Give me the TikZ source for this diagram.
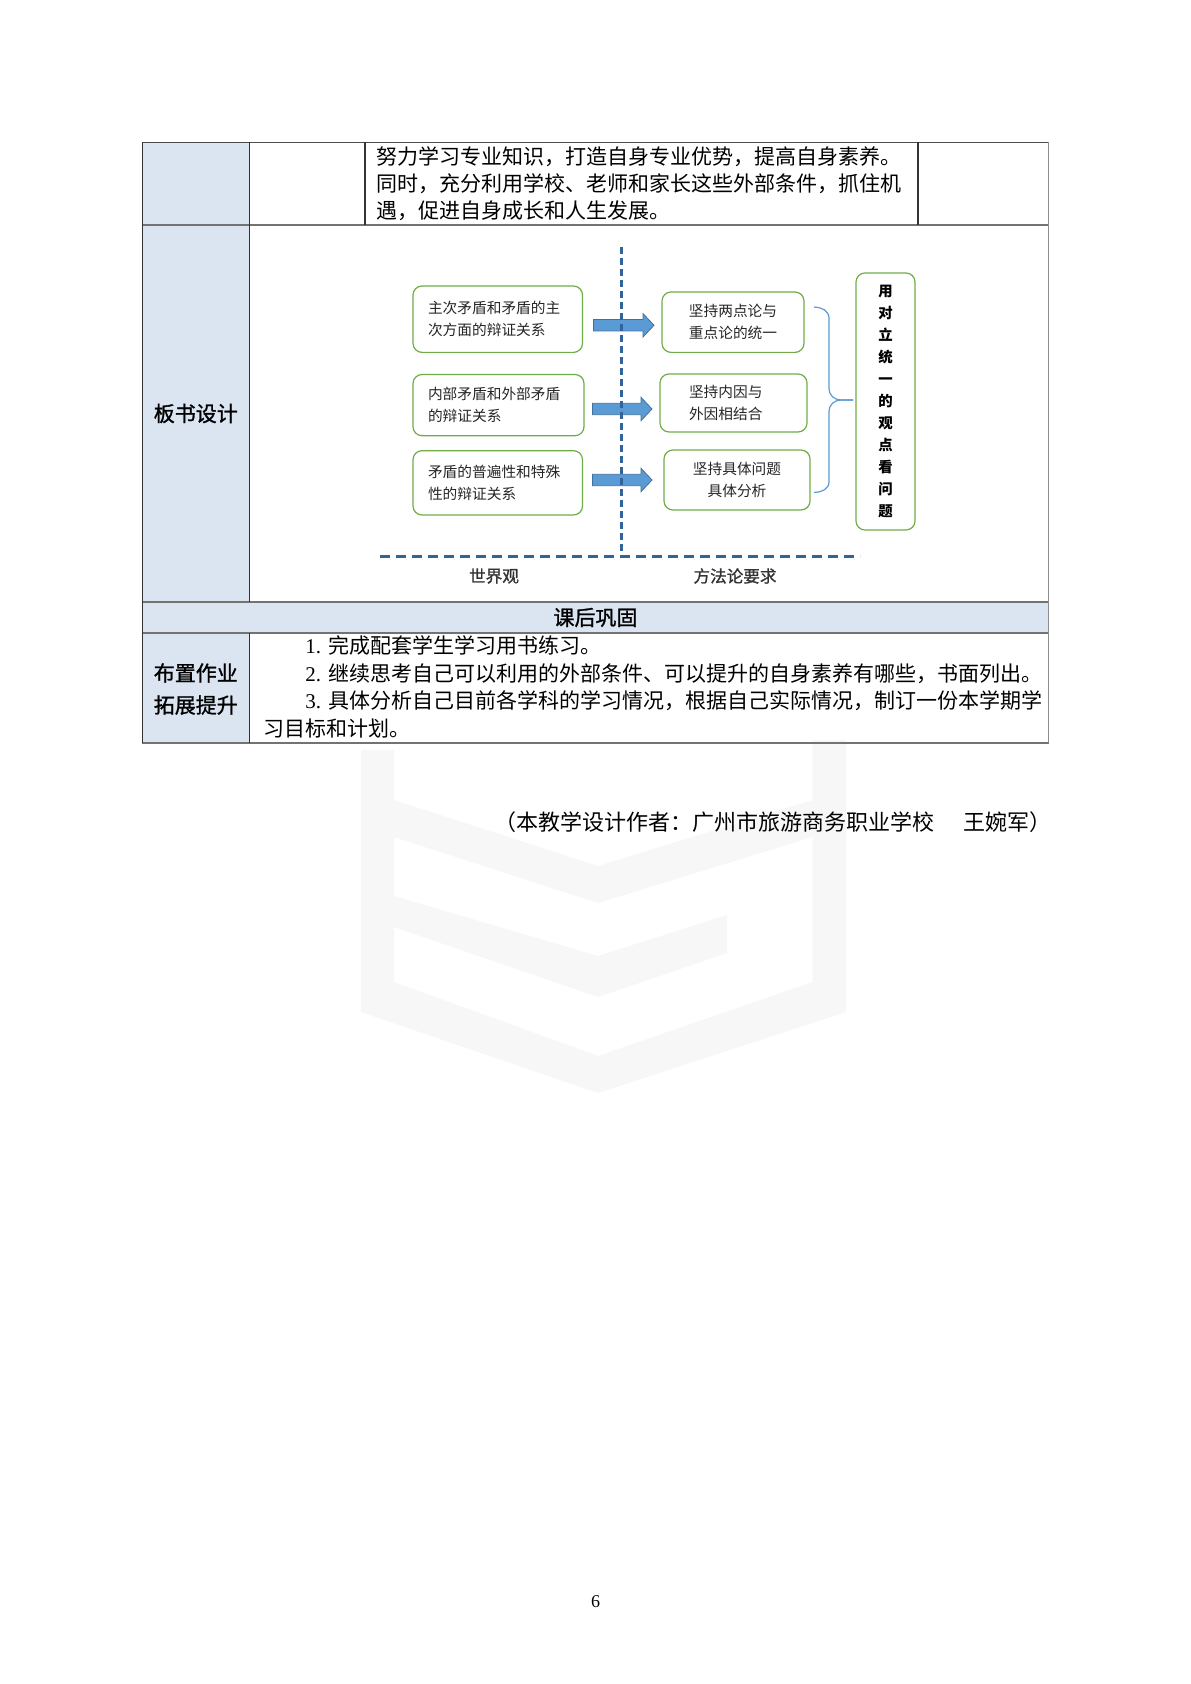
\documentclass[tikz,border=0pt]{standalone}
\usepackage{fontspec}
\setmainfont{Noto Sans CJK SC}
\newfontfamily\tnr{Liberation Serif}
\newfontfamily\hei[FakeBold=1.2]{Noto Sans CJK SC}
\usetikzlibrary{calc}
\definecolor{hdrblue}{HTML}{DBE5F1}
\definecolor{boxgreen}{HTML}{70AD47}
\definecolor{arrfill}{HTML}{5B9BD5}
\definecolor{arrline}{HTML}{41719C}
\definecolor{dashblue}{HTML}{31649B}
\definecolor{wmark}{gray}{0.97}
\begin{document}
\begin{tikzpicture}[x=0.5pt,y=-0.5pt,
  every node/.style={inner sep=0pt},
  bodytext/.style={font=\fontsize{10.5}{13.5}\selectfont},
  hdr/.style={font=\hei\fontsize{10.5}{13.5}\selectfont},
  gbox/.style={draw=boxgreen, line width=0.6pt, rounded corners=4.5pt, fill=white,
               font=\fontsize{7.35}{10.85}\selectfont, text=black!85},
  vline/.style={line width=0.6pt, draw=black!80},
  hline/.style={line width=1pt, draw=black!55},
  dline/.style={draw=dashblue, line width=1.5pt, dash pattern=on 5pt off 3pt},
  barr/.style={fill=arrfill, draw=arrline, line width=0.4pt},
  brace/.style={draw=arrfill, line width=0.6pt},
  wm/.style={fill=wmark, draw=none},
  lbl/.style={font=\hei\fontsize{8.3}{10}\selectfont, text=black!80}
]
\useasboundingbox (0,0) rectangle (1190,1684);
\fill[white] (0,0) rectangle (1190,1684);

% faint watermark
\fill[wm] (361,750) -- (361,1012) -- (598,1093) -- (846,1012) -- (846,740) -- (812.6,740)
  -- (812.6,982) -- (598,1056) -- (394,982) -- (394,750) -- cycle;
\fill[wm] (394,896) -- (598,956) -- (727,915) -- (727,953) -- (598,997) -- (394,927) -- cycle;
\fill[wm] (394,800) -- (598,866) -- (812.6,800) -- (812.6,837) -- (598,903) -- (394,837) -- cycle;

% table fills
\fill[hdrblue] (142.3,142.3) rectangle (249.3,602);
\fill[hdrblue] (142.3,602) rectangle (1048.7,633);
\fill[hdrblue] (142.3,633) rectangle (249.3,743);

% table lines
\draw[line width=0.7pt, draw=black!70] (142.3,142.3) -- (1048.7,142.3);
\draw[hline] (142.3,225) -- (1048.7,225);
\draw[hline] (142.3,602) -- (1048.7,602);
\draw[hline] (142.3,633) -- (1048.7,633);
\draw[hline] (142.3,743) -- (1048.7,743);
\draw[vline] (142.3,142.3) -- (142.3,743);
\draw[vline] (249.3,142.3) -- (249.3,602);
\draw[vline] (249.3,633) -- (249.3,743);
\draw[vline] (365,142.3) -- (365,225);
\draw[vline] (918,142.3) -- (918,225);
\draw[line width=0.7pt, draw=black!45] (1048.7,142.3) -- (1048.7,743);

% table texts
\node[bodytext, anchor=west, align=left] (plan) at (376,184)
  {努力学习专业知识，打造自身专业优势，提高自身素养。\\
   同时，充分利用学校、老师和家长这些外部条件，抓住机\\
   遇，促进自身成长和人生发展。};
\node[hdr] (bsj) at (195.8,413.5) {板书设计};
\node[hdr] (khgg) at (595.5,617.5) {课后巩固};
\node[hdr, align=center, font=\hei\fontsize{10.5}{16}\selectfont] (bzzy) at (195.8,689) {布置作业\\拓展提升};
\node[font=\fontsize{10.5}{13.75}\selectfont, anchor=west, align=left] (hw) at (263,686.7)
  {\hspace*{2em}{\tnr 1. }完成配套学生学习用书练习。\\
   \hspace*{2em}{\tnr 2. }继续思考自己可以利用的外部条件、可以提升的自身素养有哪些，书面列出。\\
   \hspace*{2em}{\tnr 3. }具体分析自己目前各学科的学习情况，根据自己实际情况，制订一份本学期学\\
   习目标和计划。};

% diagram boxes
\node[gbox, minimum height=33.2pt, text width=69.75pt, inner xsep=7.5pt, align=left] (L1)
  at (497.75,319.2) {主次矛盾和矛盾的主\\次方面的辩证关系};
\node[gbox, minimum height=30.6pt, text width=70.5pt, inner xsep=7.5pt, align=left] (L2)
  at (498.5,405.1) {内部矛盾和外部矛盾\\的辩证关系};
\node[gbox, minimum height=32.15pt, text width=69.75pt, inner xsep=7.5pt, align=left] (L3)
  at (497.75,482.85) {矛盾的普遍性和特殊\\性的辩证关系};
\node[gbox, minimum width=71pt, minimum height=30.2pt, align=center] (R1)
  at (733,322.2) {坚持两点论与\\重点论的统一};
\node[gbox, minimum height=29pt, text width=44.5pt, inner xsep=14.5pt, align=left] (R2)
  at (733.5,403) {坚持内因与\\外因相结合};
\node[gbox, minimum width=73pt, minimum height=30pt, align=center] (R3)
  at (737,480) {坚持具体问题\\具体分析};
\node[gbox, minimum width=29.5pt, minimum height=128.5pt, align=center,
      font=\bfseries\fontsize{7.2}{11}\selectfont, text=black] (T)
  at (885.5,401.5) {用\\对\\立\\统\\一\\的\\观\\点\\看\\问\\题};

% block arrows
\draw[barr] (593.6,319.6) -- (643,319.6) -- (643,313.6) -- (654,325.3) -- (643,337) -- (643,331) -- (593.6,331) -- cycle;
\draw[barr] (592.5,403.3) -- (641,403.3) -- (641,397.3) -- (652,409) -- (641,420.7) -- (641,414.7) -- (592.5,414.7) -- cycle;
\draw[barr] (592.5,474.3) -- (641,474.3) -- (641,468.3) -- (652,480) -- (641,491.7) -- (641,485.7) -- (592.5,485.7) -- cycle;

% dashed dividers
\draw[dline, dash pattern=on 3.5pt off 2pt] (621,247) -- (621,553);
\draw[dline] (380,556) -- (860,556);

% brace to the conclusion box
\coordinate (btip) at (853,400);
\draw[brace] (814,307) to[out=0,in=90] (829,318) -- (829,389) to[out=-90,in=180] (841,400) -- (btip);
\draw[brace] (btip) -- (841,400) to[out=180,in=90] (829,411) -- (829,482) to[out=-90,in=0] (814,492.5);

% axis labels
\node[lbl] (wv) at (494,576) {世界观};
\node[lbl] (ffl) at (735,576) {方法论要求};

% author and page number
\node[font=\fontsize{11}{13.5}\selectfont, anchor=west] (author) at (494,822)
  {（本教学设计作者：广州市旅游商务职业学校\hspace{1.3em}王婉军）};
\node[font=\tnr\fontsize{9}{11}\selectfont] (pg) at (595.5,1602) {6};
\end{tikzpicture}
\end{document}
